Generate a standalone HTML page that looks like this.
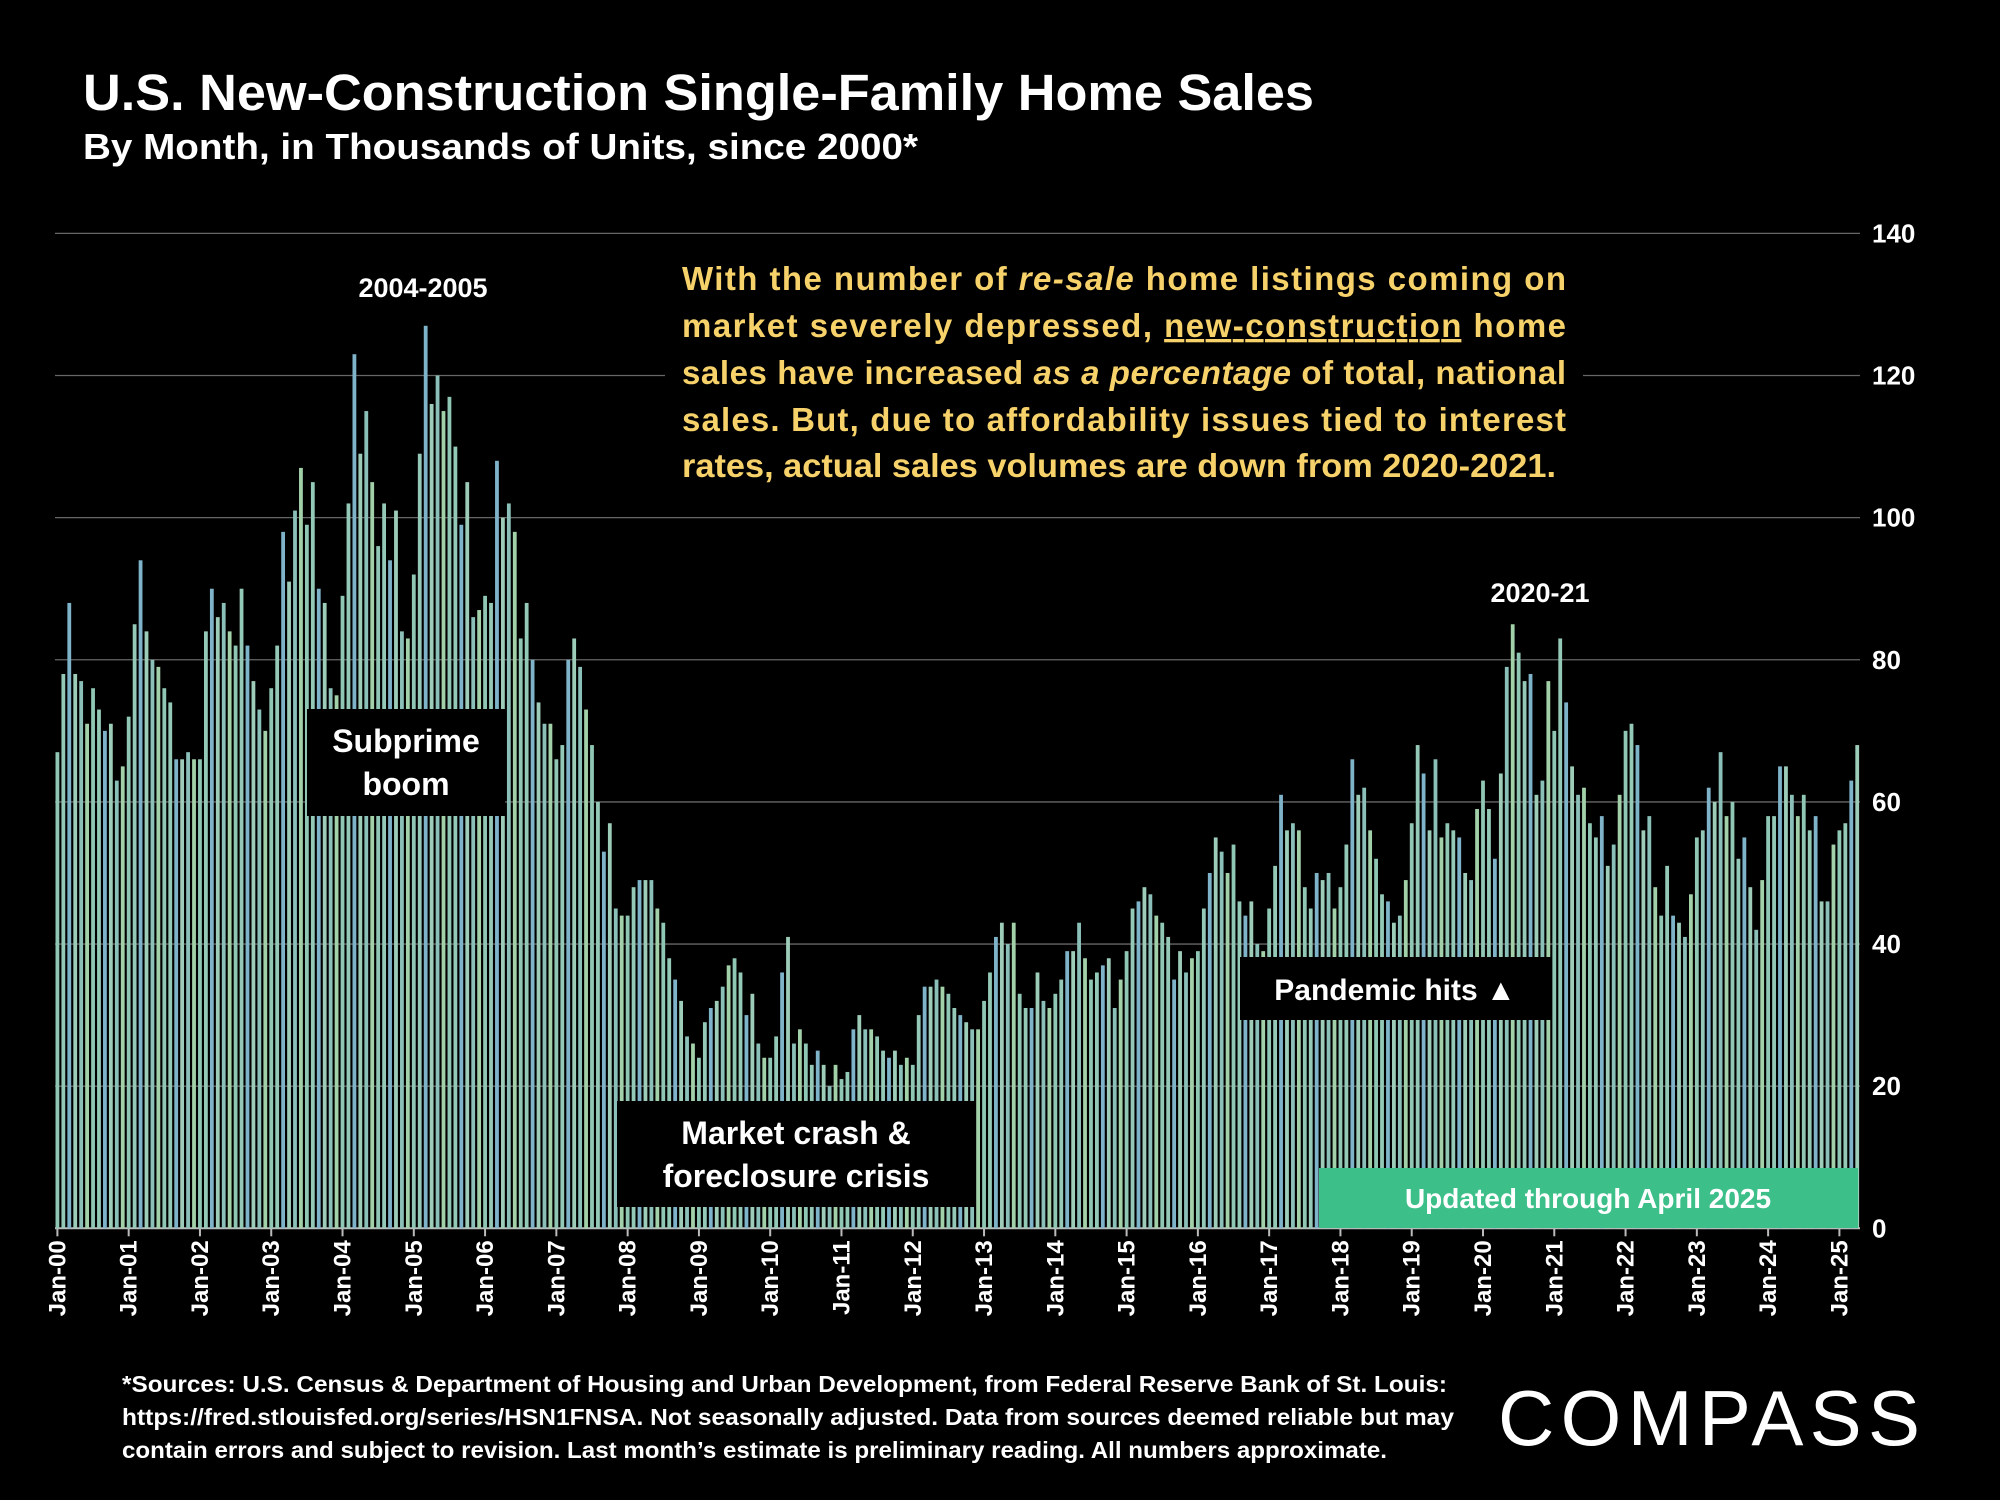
<!DOCTYPE html>
<html><head><meta charset="utf-8"><style>
html,body{margin:0;padding:0;background:#000;}
svg{display:block;font-family:"Liberation Sans",sans-serif;}
</style></head><body>
<svg width="2000" height="1500" viewBox="0 0 2000 1500" id="chart">
<rect x="0" y="0" width="2000" height="1500" fill="#000"/>
<text x="83" y="110" fill="#fff" font-size="51" font-weight="bold" textLength="1231" lengthAdjust="spacingAndGlyphs">U.S. New-Construction Single-Family Home Sales</text>
<text x="83" y="159" fill="#fff" font-size="36" font-weight="bold" textLength="835" lengthAdjust="spacingAndGlyphs">By Month, in Thousands of Units, since 2000*</text>
<g id="grid"></g>
<g id="bars"></g>
<g id="yticks"></g>
<g id="xticks"></g>
<text x="423" y="297" fill="#fff" font-size="27" font-weight="bold" text-anchor="middle">2004-2005</text>
<text x="1540" y="602" fill="#fff" font-size="27" font-weight="bold" text-anchor="middle">2020-21</text>
<g fill="#f7d26a" font-size="33" font-weight="bold">
<rect x="665" y="252" width="918" height="240" fill="#000"/>
<text x="682" y="290" textLength="884" lengthAdjust="spacing">With the number of <tspan font-style="italic">re-sale</tspan> home listings coming on</text>
<text x="682" y="337" textLength="884" lengthAdjust="spacing">market severely depressed, <tspan text-decoration="underline">new-construction</tspan> home</text>
<text x="682" y="384" textLength="884" lengthAdjust="spacing">sales have increased <tspan font-style="italic">as a percentage</tspan> of total, national</text>
<text x="682" y="431" textLength="884" lengthAdjust="spacing">sales. But, due to affordability issues tied to interest</text>
<text x="682" y="477" textLength="874" lengthAdjust="spacingAndGlyphs">rates,  actual sales volumes are down from 2020-2021.</text>
</g>
<g>
<rect x="307" y="709" width="198" height="107" fill="#000"/>
<text x="406" y="752" fill="#fff" font-size="32" font-weight="bold" text-anchor="middle">Subprime</text>
<text x="406" y="795" fill="#fff" font-size="32" font-weight="bold" text-anchor="middle">boom</text>
</g>
<g>
<rect x="617" y="1101" width="359" height="106" fill="#000"/>
<text x="796" y="1144" fill="#fff" font-size="32" font-weight="bold" text-anchor="middle">Market crash &amp;</text>
<text x="796" y="1187" fill="#fff" font-size="32" font-weight="bold" text-anchor="middle">foreclosure crisis</text>
</g>
<g>
<rect x="1240" y="957" width="311" height="63" fill="#000"/>
<text x="1395" y="1000" fill="#fff" font-size="30" font-weight="bold" text-anchor="middle">Pandemic hits ▲</text>
</g>
<g>
<rect x="1319" y="1168" width="539" height="60" fill="#3dbf8a"/>
<text x="1588" y="1208" fill="#fff" font-size="28" font-weight="bold" text-anchor="middle">Updated through April 2025</text>
</g>
<g fill="#fff" font-size="23" font-weight="bold">
<text x="122" y="1392" textLength="1325" lengthAdjust="spacingAndGlyphs">*Sources: U.S. Census &amp; Department of Housing and Urban Development, from Federal Reserve Bank of St. Louis:</text>
<text x="122" y="1425" textLength="1332" lengthAdjust="spacingAndGlyphs">https://fred.stlouisfed.org/series/HSN1FNSA. Not seasonally adjusted. Data from sources deemed reliable but may</text>
<text x="122" y="1458" textLength="1265" lengthAdjust="spacingAndGlyphs">contain errors and subject to revision. Last month’s estimate is preliminary reading. All numbers approximate.</text>
</g>
<g>
<text x="1498" y="1445" fill="#fff" font-size="78" textLength="422" lengthAdjust="spacing">COMPASS</text>
</g>
</svg>
<script>
const years = ["00","01","02","03","04","05","06","07","08","09","10","11","12","13","14","15","16","17","18","19","20","21","22","23","24","25"];
const yTicks = [0,20,40,60,80,100,120,140];
const sales = [
67,78,88,78,77,71,76,73,70,71,63,65,
72,85,94,84,80,79,76,74,66,66,67,66,
66,84,90,86,88,84,82,90,82,77,73,70,
76,82,98,91,101,107,99,105,90,88,76,75,
89,102,123,109,115,105,96,102,94,101,84,83,
92,109,127,116,120,115,117,110,99,105,86,87,
89,88,108,100,102,98,83,88,80,74,71,71,
66,68,80,83,79,73,68,60,53,57,45,44,
44,48,49,49,49,45,43,38,35,32,27,26,
24,29,31,32,34,37,38,36,30,33,26,24,
24,27,36,41,26,28,26,23,25,23,20,23,
21,22,28,30,28,28,27,25,24,25,23,24,
23,30,34,34,35,34,33,31,30,29,28,28,
32,36,41,43,40,43,33,31,31,36,32,31,
33,35,39,39,43,38,35,36,37,38,31,35,
39,45,46,48,47,44,43,41,35,39,36,38,
39,45,50,55,53,50,54,46,44,46,40,39,
45,51,61,56,57,56,48,45,50,49,50,45,
48,54,66,61,62,56,52,47,46,43,44,49,
57,68,64,56,66,55,57,56,55,50,49,59,
63,59,52,64,79,85,81,77,78,61,63,77,
70,83,74,65,61,62,57,55,58,51,54,61,
70,71,68,56,58,48,44,51,44,43,41,47,
55,56,62,60,67,58,60,52,55,48,42,49,
58,58,65,65,61,58,61,56,58,46,46,54,
56,57,63,68
];
const NS="http://www.w3.org/2000/svg";
const X0=57.4, STEP=5.94, Y0=1228.3, YTOP=233.4, YMAX=140;
const xs=i=>X0+i*STEP;
const ys=v=>Y0-(v/YMAX)*(Y0-YTOP);
function mk(tag,attrs,parent){const e=document.createElementNS(NS,tag);for(const k in attrs)e.setAttribute(k,attrs[k]);parent.appendChild(e);return e;}
const grid=document.getElementById('grid'),bars=document.getElementById('bars'),yt=document.getElementById('yticks'),xt=document.getElementById('xticks');
yTicks.forEach(t=>{
  const l=mk('line',{x1:55,x2:1860,y1:ys(t),y2:ys(t),stroke:t===0?'#bbb':'#666','stroke-width':t===0?2:1.3},grid);
  
  
  const tx=mk('text',{x:1872,y:ys(t)+9,fill:'#fff','font-size':26,'font-weight':'bold'},yt);
  tx.textContent=t;
  
  
});
const cols=['#8fc6b4','#94c9b8','#7fb3c9','#9dccb9','#8bc0b8','#a2d0a8'];
sales.forEach((v,i)=>{
  const r=mk('rect',{x:xs(i)-1.9,y:ys(v),width:3.8,height:Y0-ys(v),fill:cols[i%cols.length]},bars);
  
  
});
years.forEach((y,k)=>{
  const x=xs(k*12);
  const tk=mk('line',{x1:x,x2:x,y1:Y0,y2:Y0+8,stroke:'#bbb','stroke-width':2},xt);
  
  
  const t=mk('text',{x:0,y:0,fill:'#fff','font-size':24,'font-weight':'bold','text-anchor':'end',transform:`translate(${x+8},${Y0+12}) rotate(-90)`},xt);
  t.textContent='Jan-'+y;
  
  
});
</script>
</body></html>
